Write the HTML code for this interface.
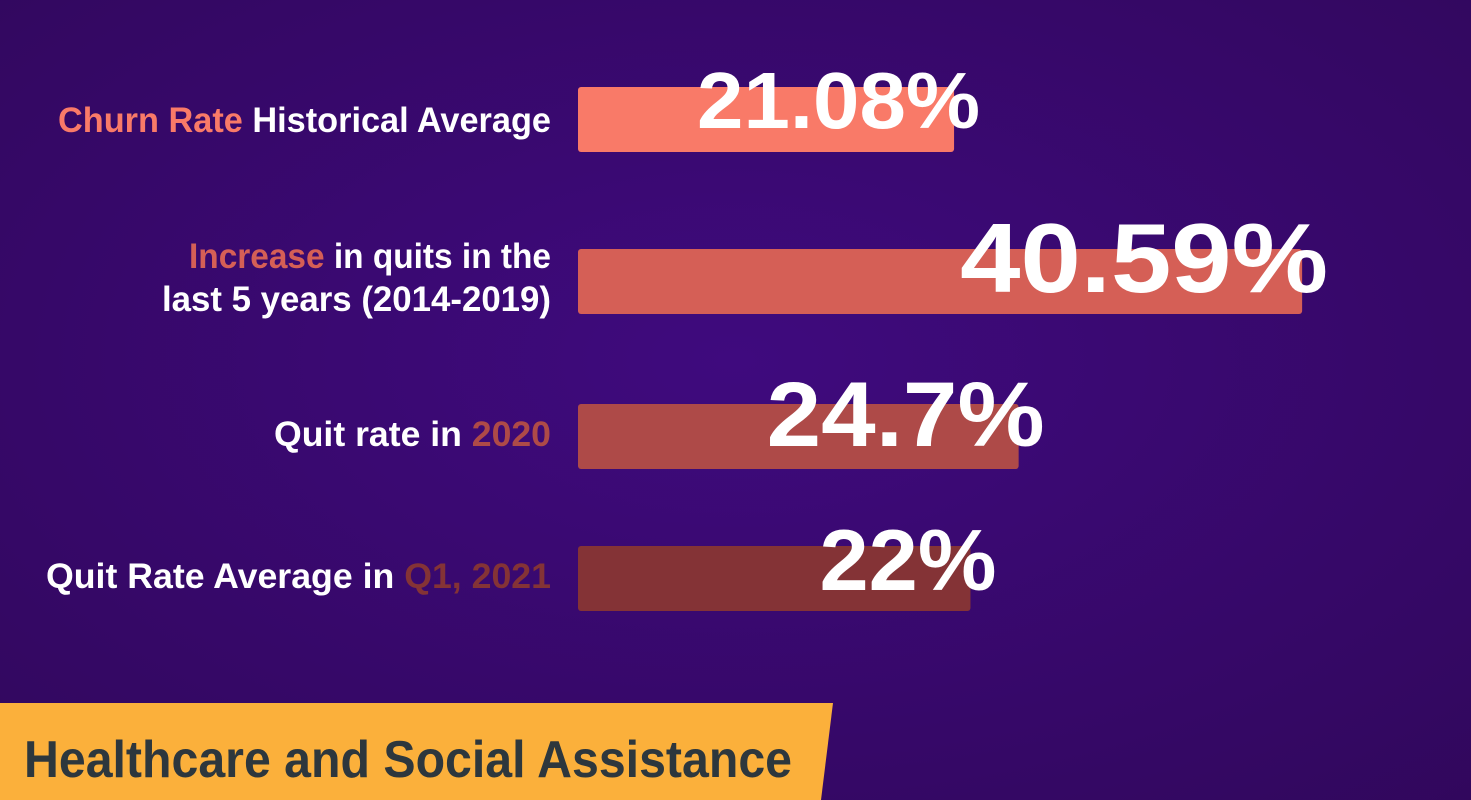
<!DOCTYPE html>
<html><head><meta charset="utf-8"><style>
html,body{margin:0;padding:0;width:1471px;height:800px;overflow:hidden;background:#35085f;}
svg{display:block}
text{font-family:"Liberation Sans",sans-serif;font-weight:bold}
</style></head><body>
<svg id="chart" width="1471" height="800" viewBox="0 0 1471 800" xmlns="http://www.w3.org/2000/svg">
<defs>
<radialGradient id="bg" cx="0.5" cy="0.45" r="0.8">
<stop offset="0" stop-color="#3f0a7e"/>
<stop offset="1" stop-color="#30075a"/>
</radialGradient>
</defs>
<rect x="0" y="0" width="1471" height="800" fill="url(#bg)"/>
<g id="labels"></g>
<g id="bars"></g>
<g id="values"></g>
<g>
<polygon points="0,703 833,703 821,800 0,800" fill="#fbb03b"/>
<text x="24" y="777" font-size="52" fill="#2d373d" textLength="768" lengthAdjust="spacingAndGlyphs">Healthcare and Social Assistance</text>
</g>
</svg>
<script>
const categories = ["Churn Rate Historical Average","Increase in quits in the last 5 years (2014-2019)","Quit rate in 2020","Quit Rate Average in Q1, 2021"];
const values = [21.08, 40.59, 24.7, 22];
const valueLabels = ["21.08%","40.59%","24.7%","22%"];
const NS="http://www.w3.org/2000/svg";
const x0=578, pxPerUnit=17.84;
function xScale(v){return x0+v*pxPerUnit;}
const barY=[87,249,404,546], barH=65;
const colors=["#f97a68","#d55f56","#ae4a48","#843336"];
const valSize=[80,98,92,86], valBase=[128,292,446,590], valW=[283,368,278,177];
const bars=document.getElementById('bars'), vals=document.getElementById('values'), labs=document.getElementById('labels');
values.forEach((v,i)=>{
  const r=document.createElementNS(NS,'rect');
  
  
  r.setAttribute('x',x0);r.setAttribute('y',barY[i]);
  r.setAttribute('width',xScale(v)-x0);r.setAttribute('height',barH);
  r.setAttribute('rx',3);r.setAttribute('fill',colors[i]);
  bars.appendChild(r);
  const t=document.createElementNS(NS,'text');
  
  
  t.setAttribute('x',xScale(v)+26);t.setAttribute('y',valBase[i]);
  t.setAttribute('text-anchor','end');t.setAttribute('font-size',valSize[i]);
  t.setAttribute('fill','#ffffff');
  t.setAttribute('textLength',valW[i]);t.setAttribute('lengthAdjust','spacingAndGlyphs');
  t.textContent=valueLabels[i];
  vals.appendChild(t);
});
const labelLines=[
  {y:132,w:493,parts:[["Churn Rate ","#f97a68"],["Historical Average","#fff"]]},
  {y:268,w:362,parts:[["Increase ","#d55f56"],["in quits in the","#fff"]]},
  {y:311,w:389,parts:[["last 5 years (2014-2019)","#fff"]]},
  {y:446,w:277,parts:[["Quit rate in ","#fff"],["2020","#ae4a48"]]},
  {y:588,w:505,parts:[["Quit Rate Average in ","#fff"],["Q1, 2021","#843336"]]}
];
labelLines.forEach((l,i)=>{
  const t=document.createElementNS(NS,'text');
  
  
  t.setAttribute('x',551);t.setAttribute('y',l.y);
  t.setAttribute('text-anchor','end');t.setAttribute('font-size',35);
  t.setAttribute('textLength',l.w);t.setAttribute('lengthAdjust','spacingAndGlyphs');
  l.parts.forEach(p=>{
    const s=document.createElementNS(NS,'tspan');
    s.setAttribute('fill',p[1]);s.textContent=p[0];t.appendChild(s);
  });
  labs.appendChild(t);
});
</script>
</body></html>
